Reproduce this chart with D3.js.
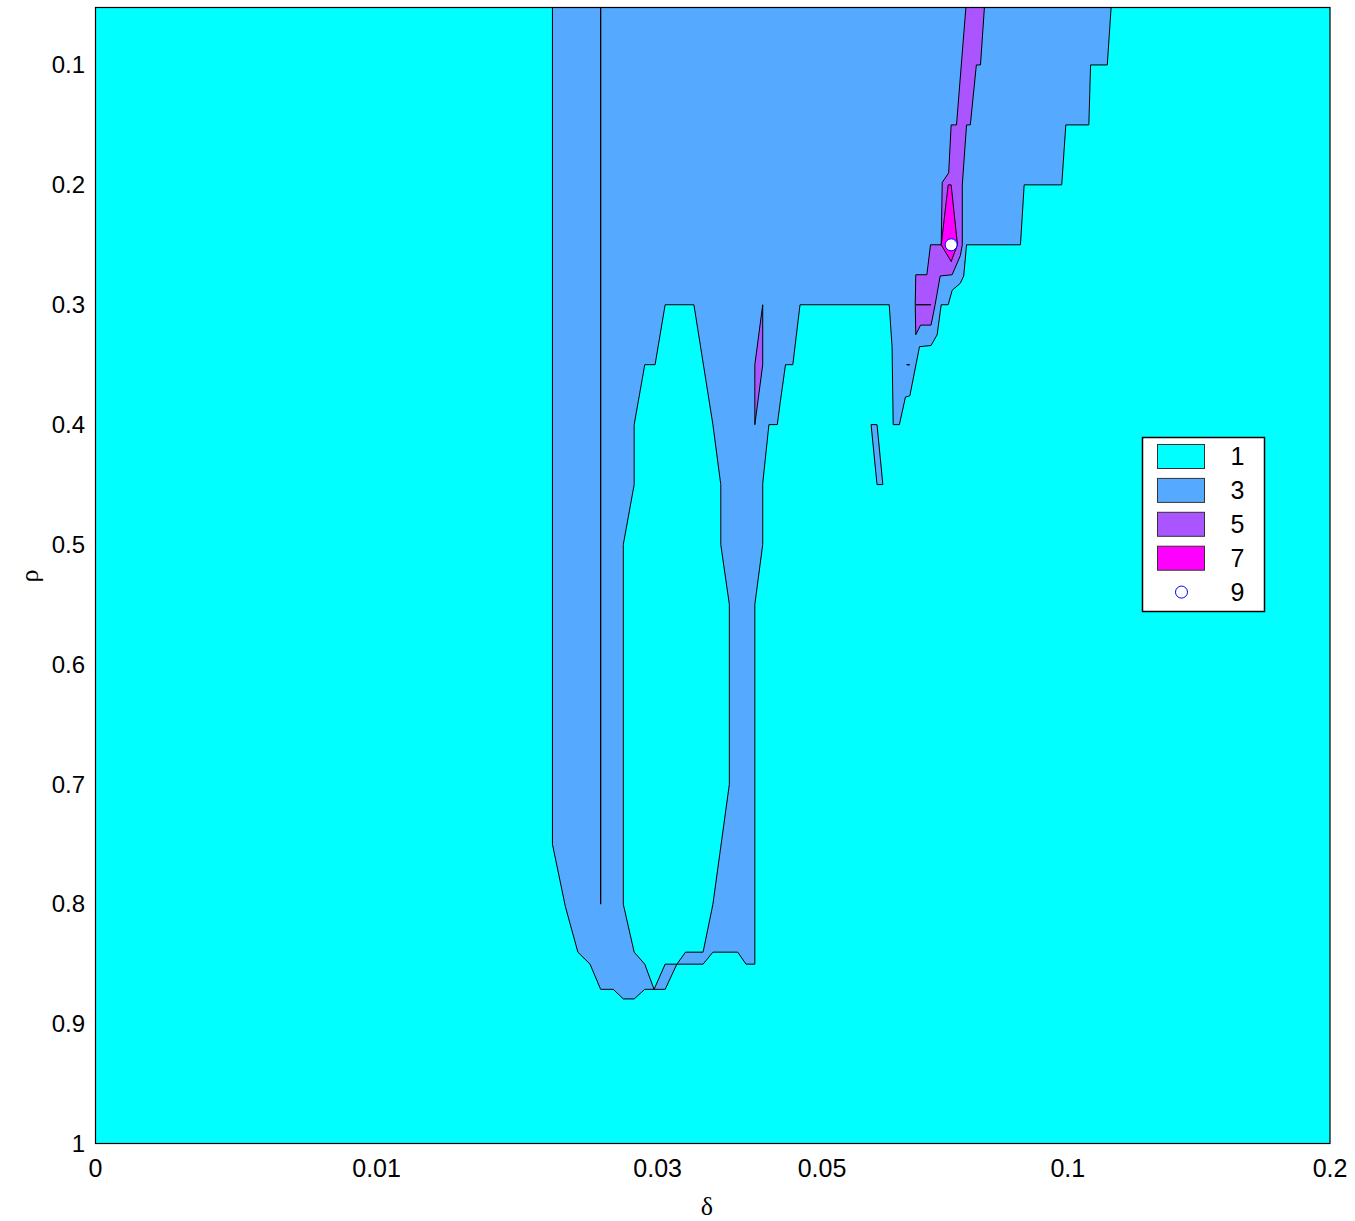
<!DOCTYPE html>
<html><head><meta charset="utf-8">
<script src="https://cdn.jsdelivr.net/npm/d3@7"></script>
<style>body{margin:0;background:#fff}</style>
</head><body><svg id="chart" width="1355" height="1221"></svg>
<script>
// ---------------- data ----------------
const levelLabels = ["1", "3", "5", "7", "9"];
const levelColors = ["#00FFFF", "#55AAFF", "#AA55FF", "#FF00FF"];
const markerStroke = "#0000FF";
const deltaRange = [0, 0.2];
const rhoRange = [0.0525, 1];
const deltaOffset = 0.01;
const xTickValues = [0, 0.01, 0.03, 0.05, 0.1, 0.2];
const xTickLabels = ["0", "0.01", "0.03", "0.05", "0.1", "0.2"];
const yTickValues = [0.1, 0.2, 0.3, 0.4, 0.5, 0.6, 0.7, 0.8, 0.9, 1];
const yTickLabels = ["0.1", "0.2", "0.3", "0.4", "0.5", "0.6", "0.7", "0.8", "0.9", "1"];
const xLabel = "δ";
const yLabel = "ρ";

// level >= 3 region (outer boundary), [delta, rho]
const region3Outer = [
  [0.0209, 0.05], [0.1126, 0.05], [0.1114, 0.1], [0.1065, 0.1], [0.1060, 0.15],
  [0.0996, 0.15], [0.0985, 0.2], [0.0889, 0.2], [0.0880, 0.25], [0.0758, 0.25],
  [0.0752, 0.276], [0.0745, 0.282], [0.0728, 0.288], [0.0720, 0.3], [0.0706, 0.3],
  [0.0698, 0.325], [0.0686, 0.334], [0.0664, 0.335], [0.0646, 0.376], [0.0638, 0.377],
  [0.0627, 0.4], [0.0616, 0.4], [0.0614, 0.335], [0.0609, 0.3], [0.0469, 0.3],
  [0.0459, 0.35], [0.0449, 0.35], [0.0442, 0.381], [0.0438, 0.4], [0.0427, 0.4],
  [0.0419, 0.449], [0.0419, 0.5], [0.0409, 0.55], [0.0409, 0.85], [0.0398, 0.85],
  [0.0388, 0.84], [0.0359, 0.84], [0.0348, 0.85], [0.0320, 0.85], [0.0308, 0.871],
  [0.0297, 0.871], [0.0288, 0.871], [0.0278, 0.879], [0.0268, 0.879], [0.0259, 0.871],
  [0.0248, 0.871], [0.0239, 0.85], [0.0229, 0.84], [0.0219, 0.802], [0.0209, 0.75]
];
// level 1 hole inside the level 3 region
const region1Hole = [
  [0.0308, 0.3], [0.0338, 0.3], [0.0359, 0.4], [0.0368, 0.45], [0.0368, 0.5],
  [0.0378, 0.55], [0.0378, 0.7], [0.0359, 0.8], [0.0348, 0.84], [0.0329, 0.84],
  [0.0320, 0.85], [0.0308, 0.85], [0.0297, 0.871], [0.0288, 0.85], [0.0278, 0.84],
  [0.0268, 0.8], [0.0268, 0.5], [0.0278, 0.45], [0.0278, 0.4], [0.0288, 0.35],
  [0.0298, 0.35]
];
// small level 3 island
const region3Island = [[0.0578, 0.4], [0.0588, 0.4], [0.0598, 0.45], [0.0588, 0.45]];
// level 5 regions
const region5Sliver = [[0.0419, 0.3], [0.0419, 0.35], [0.0409, 0.4], [0.0409, 0.35]];
const region5Main = [
  [0.0757, 0.05], [0.0737, 0.15], [0.0726, 0.15], [0.0721, 0.19], [0.0708, 0.198],
  [0.0706, 0.25], [0.0685, 0.25], [0.0678, 0.275], [0.0657, 0.275], [0.0656, 0.3],
  [0.0657, 0.325], [0.0666, 0.317], [0.0686, 0.317], [0.0694, 0.3], [0.0704, 0.276],
  [0.0728, 0.275], [0.0745, 0.259], [0.0749, 0.25], [0.0749, 0.2], [0.0758, 0.15],
  [0.0766, 0.15], [0.0779, 0.1], [0.0788, 0.1], [0.0797, 0.05]
];
// level 7 region
const region7 = [[0.0720, 0.2], [0.0726, 0.2], [0.0739, 0.25], [0.0726, 0.264], [0.0706, 0.25]];
// degenerate contour lines
const contourLines = [
  [[0.0248, 0.05], [0.0248, 0.8]],
  [[0.0657, 0.3], [0.0686, 0.3]],
  [[0.0640, 0.35], [0.0646, 0.35]]
];
// level 9 points
const level9Points = [[0.0726, 0.25]];

// ---------------- layout ----------------
const svg = d3.select("#chart");
const plot = {left: 95, right: 1330, top: 8, bottom: 1144};
const FONT = "'Liberation Sans', Arial, Helvetica, sans-serif";

const xLog = d3.scaleLog()
  .domain([deltaRange[0] + deltaOffset, deltaRange[1] + deltaOffset])
  .range([plot.left, plot.right - 0.5]);
const x = d => xLog(d + deltaOffset);
const y = d3.scaleLinear().domain(rhoRange).range([plot.top, plot.bottom]);

svg.append("defs").append("clipPath").attr("id", "clip")
  .append("rect")
  .attr("x", plot.left).attr("y", plot.top)
  .attr("width", plot.right - plot.left).attr("height", plot.bottom - plot.top);

const g = svg.append("g").attr("clip-path", "url(#clip)");
const line = d3.line().x(d => x(d[0])).y(d => y(d[1]));

// level 1 background cell
g.append("rect")
  .attr("x", x(deltaRange[0])).attr("y", y(rhoRange[0]))
  .attr("width", x(deltaRange[1]) - x(deltaRange[0]) + 1)
  .attr("height", y(rhoRange[1]) - y(rhoRange[0]))
  .attr("fill", levelColors[0]);

const polys = [
  [region3Outer, levelColors[1]],
  [region1Hole, levelColors[0]],
  [region3Island, levelColors[1]],
  [region5Sliver, levelColors[2]],
  [region5Main, levelColors[2]],
  [region7, levelColors[3]]
];
g.selectAll("path.poly").data(polys).join("path")
  .attr("class", "poly")
  .attr("d", d => line(d[0]) + "Z")
  .attr("fill", d => d[1])
  .attr("stroke", "#000")
  .attr("stroke-width", 1)
  .attr("stroke-linejoin", "miter");

g.selectAll("path.cl").data(contourLines).join("path")
  .attr("class", "cl")
  .attr("d", d => line(d))
  .attr("fill", "none")
  .attr("stroke", "#000")
  .attr("stroke-width", 1.3);

g.selectAll("circle.p9").data(level9Points).join("circle")
  .attr("class", "p9")
  .attr("cx", d => x(d[0])).attr("cy", d => y(d[1]))
  .attr("r", 6)
  .attr("fill", "#fff")
  .attr("stroke", markerStroke)
  .attr("stroke-width", 1);

// frame
svg.append("rect")
  .attr("x", plot.left + 0.5).attr("y", plot.top - 0.5)
  .attr("width", plot.right - plot.left - 0.5).attr("height", plot.bottom - plot.top)
  .attr("fill", "none").attr("stroke", "#000").attr("stroke-width", 1.2);

// axes
const xAxis = d3.axisBottom(xLog)
  .tickValues(xTickValues.map(v => v + deltaOffset))
  .tickFormat((v, i) => xTickLabels[i])
  .tickSize(0).tickPadding(15);
const gx = svg.append("g").attr("transform", `translate(0,${plot.bottom})`).call(xAxis);
gx.select(".domain").remove();
gx.selectAll("text").attr("font-family", FONT).attr("font-size", 25).attr("fill", "#000");

const yAxis = d3.axisLeft(y)
  .tickValues(yTickValues)
  .tickFormat((v, i) => yTickLabels[i])
  .tickSize(0).tickPadding(10);
const gy = svg.append("g").attr("transform", `translate(${plot.left},0)`).call(yAxis);
gy.select(".domain").remove();
gy.selectAll("text").attr("font-family", FONT).attr("font-size", 24).attr("fill", "#000");

svg.append("text")
  .attr("x", 707).attr("y", 1215)
  .attr("text-anchor", "middle")
  .attr("font-family", "'Liberation Serif', 'Times New Roman', serif")
  .attr("font-size", 26)
  .text(xLabel);
svg.append("text")
  .attr("transform", "translate(38,576) rotate(-90)")
  .attr("text-anchor", "middle")
  .attr("font-family", "'Liberation Serif', 'Times New Roman', serif")
  .attr("font-size", 26)
  .text(yLabel);

// legend
const leg = svg.append("g").attr("transform", "translate(1142.5,437.5)");
leg.append("rect").attr("width", 122).attr("height", 174)
  .attr("fill", "#fff").attr("stroke", "#000").attr("stroke-width", 1.5);
const rowH = 33.9;
levelLabels.forEach((lab, i) => {
  const cy = 19 + i * rowH;
  if (i < levelColors.length) {
    leg.append("rect")
      .attr("x", 15).attr("y", cy - 12).attr("width", 47).attr("height", 24)
      .attr("fill", levelColors[i]).attr("stroke", "#333").attr("stroke-width", 1);
  } else {
    leg.append("circle").attr("cx", 39).attr("cy", cy).attr("r", 6)
      .attr("fill", "#fff").attr("stroke", markerStroke).attr("stroke-width", 1);
  }
  leg.append("text").attr("x", 95).attr("y", cy).attr("dy", "0.35em")
    .attr("text-anchor", "middle")
    .attr("font-family", FONT).attr("font-size", 25)
    .text(lab);
});
</script>
</body></html>
